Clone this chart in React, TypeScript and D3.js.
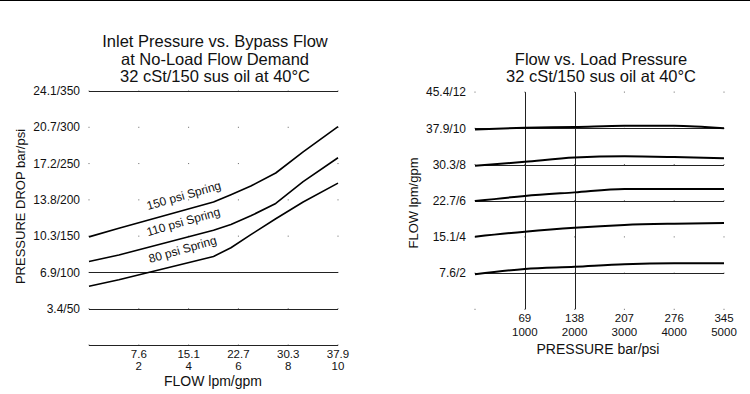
import { useEffect, useRef } from 'react'
import * as d3 from 'd3'

// left chart: inlet pressure (psi) vs bypass flow (gpm)
const bypassGpm = [0, 1.2, 5, 5.7, 6.5, 7.5, 8.6, 10]
const spring150Psi = [149, 161, 197, 207, 219, 237, 266, 301]
const spring110Psi = [115, 124, 158, 166, 178, 195, 225, 258]
const spring80Psi = [81, 90, 122, 134, 152, 174, 197, 223]
const springLabels = ['150 psi Spring', '110 psi Spring', '80 psi Spring']

const dropTicksPsi = [50, 100, 150, 200, 250, 300, 350]
const dropTickLabels = ['3.4/50', '6.9/100', '10.3/150', '13.8/200', '17.2/250', '20.7/300', '24.1/350']
const dropSolidPsi = [0, 50, 100, 350]
const flowTicksGpm = [2, 4, 6, 8, 10]
const flowTickLpm = ['7.6', '15.1', '22.7', '30.3', '37.9']

// right chart: flow (gpm) vs load pressure (psi)
const loadPsi = [0, 1000, 2000, 3000, 4000, 5000]
const flowSeries = [
  [9.94, 10.03, 10.07, 10.14, 10.14, 10.0],
  [7.93, 8.15, 8.38, 8.45, 8.41, 8.34],
  [5.98, 6.26, 6.46, 6.65, 6.65, 6.65],
  [4.01, 4.29, 4.51, 4.66, 4.73, 4.77],
  [1.93, 2.23, 2.35, 2.49, 2.54, 2.54],
]
const loadFlowTicks = [2, 4, 6, 8, 10, 12]
const loadFlowLabels = ['7.6/2', '15.1/4', '22.7/6', '30.3/8', '37.9/10', '45.4/12']
const loadFlowSolid = [2, 6, 8, 10]
const loadTicksPsi = [1000, 2000, 3000, 4000, 5000]
const loadTickBar = ['69', '138', '207', '276', '345']
const loadSolidPsi = [1000, 2000]

const FONT = 'Liberation Sans, Arial, Helvetica, sans-serif'
const INK = '#111'
const GRID = '#222'

export default function App() {
  const svgRef = useRef<SVGSVGElement>(null)

  useEffect(() => {
    if (!svgRef.current) return
    const svg = d3.select(svgRef.current)
    svg.selectAll('*').remove()

    svg.append('line')
      .attr('x1', 0).attr('x2', 750).attr('y1', 0.5).attr('y2', 0.5)
      .attr('stroke', '#000').attr('stroke-width', 1)

    const text = (g: any, x: number, y: number, s: string, size: number, anchor = 'middle') =>
      g.append('text')
        .attr('x', x).attr('y', y)
        .attr('text-anchor', anchor)
        .attr('fill', INK)
        .style('font-family', FONT)
        .style('font-size', `${size}px`)
        .text(s)

    // ---------- left chart ----------
    const lx = d3.scaleLinear().domain([0, 10]).range([89, 338])
    const ly = d3.scaleLinear().domain([0, 350]).range([345, 91])
    const left = svg.append('g')

    // dots where the grid would cross
    for (const p of [0, ...dropTicksPsi]) {
      for (const q of [0, ...flowTicksGpm]) {
        left.append('rect')
          .attr('x', lx(q) - 0.5).attr('y', ly(p) - 0.5)
          .attr('width', 1).attr('height', 1)
          .attr('fill', '#666')
      }
    }
    dropSolidPsi.forEach(p => {
      left.append('line')
        .attr('x1', lx(0)).attr('x2', lx(10))
        .attr('y1', Math.round(ly(p)) + 0.5).attr('y2', Math.round(ly(p)) + 0.5)
        .attr('stroke', GRID).attr('stroke-width', 1)
    })

    dropTicksPsi.forEach((p, i) => {
      text(left, 80, ly(p), dropTickLabels[i], 12, 'end').attr('dy', '0.35em')
    })
    flowTicksGpm.forEach((q, i) => {
      text(left, lx(q), 357.5, flowTickLpm[i], 11.5)
      text(left, lx(q), 370, String(q), 11.5)
    })

    const leftLine = d3.line<number>()
      .x((_, i) => lx(bypassGpm[i]))
      .y(d => ly(d))
    ;[spring150Psi, spring110Psi, spring80Psi].forEach(s => {
      left.append('path')
        .datum(s)
        .attr('fill', 'none')
        .attr('stroke', '#000')
        .attr('stroke-width', 1.6)
        .attr('stroke-linejoin', 'round')
        .attr('d', leftLine)
    })

    const labelPos = [[2.37, 186], [2.37, 150], [2.45, 113]]
    labelPos.forEach(([q, p], i) => {
      text(left, 0, 0, springLabels[i], 12, 'start')
        .attr('transform', `translate(${lx(q)},${ly(p)}) rotate(-16)`)
    })

    text(left, 215, 47, 'Inlet Pressure vs. Bypass Flow', 16.5)
    text(left, 215, 64.5, 'at No-Load Flow Demand', 16.5)
    text(left, 215, 82, '32 cSt/150 sus oil at 40°C', 16.5)
    text(left, 213, 385.5, 'FLOW lpm/gpm', 14)
    text(left, 0, 0, 'PRESSURE DROP bar/psi', 13)
      .attr('transform', 'translate(25,206.5) rotate(-90)')

    // ---------- right chart ----------
    const rx = d3.scaleLinear().domain([0, 5000]).range([475, 724])
    const ry = d3.scaleLinear().domain([0, 12]).range([309.3, 92.1])
    const right = svg.append('g')

    for (const f of [0, ...loadFlowTicks]) {
      for (const p of [0, ...loadTicksPsi]) {
        right.append('rect')
          .attr('x', rx(p) - 0.5).attr('y', ry(f) - 0.5)
          .attr('width', 1).attr('height', 1)
          .attr('fill', '#666')
      }
    }
    loadFlowSolid.forEach(f => {
      right.append('line')
        .attr('x1', rx(0)).attr('x2', rx(5000))
        .attr('y1', Math.round(ry(f)) + 0.5).attr('y2', Math.round(ry(f)) + 0.5)
        .attr('stroke', GRID).attr('stroke-width', 1)
    })
    loadSolidPsi.forEach(p => {
      right.append('line')
        .attr('x1', Math.round(rx(p)) + 0.5).attr('x2', Math.round(rx(p)) + 0.5)
        .attr('y1', ry(12)).attr('y2', ry(0))
        .attr('stroke', GRID).attr('stroke-width', 1)
    })

    loadFlowTicks.forEach((f, i) => {
      text(right, 466, ry(f), loadFlowLabels[i], 12, 'end').attr('dy', '0.35em')
    })
    loadTicksPsi.forEach((p, i) => {
      text(right, rx(p), 322, loadTickBar[i], 11.5)
      text(right, rx(p), 335.5, String(p), 11.5)
    })

    const rightLine = d3.line<number>()
      .x((_, i) => rx(loadPsi[i]))
      .y(d => ry(d))
      .curve(d3.curveMonotoneX)
    flowSeries.forEach(s => {
      right.append('path')
        .datum(s)
        .attr('fill', 'none')
        .attr('stroke', '#000')
        .attr('stroke-width', 2)
        .attr('d', rightLine)
    })

    text(right, 601, 64.5, 'Flow vs. Load Pressure', 16.5)
    text(right, 601, 82, '32 cSt/150 sus oil at 40°C', 16.5)
    text(right, 598, 354, 'PRESSURE bar/psi', 14)
    text(right, 0, 0, 'FLOW lpm/gpm', 13)
      .attr('transform', 'translate(418,203) rotate(-90)')
  }, [])

  return (
    <div style={{ position: 'absolute', left: 0, top: 0 }}>
      <svg ref={svgRef} width={750} height={394} style={{ display: 'block', background: '#fff' }}></svg>
    </div>
  )
}
